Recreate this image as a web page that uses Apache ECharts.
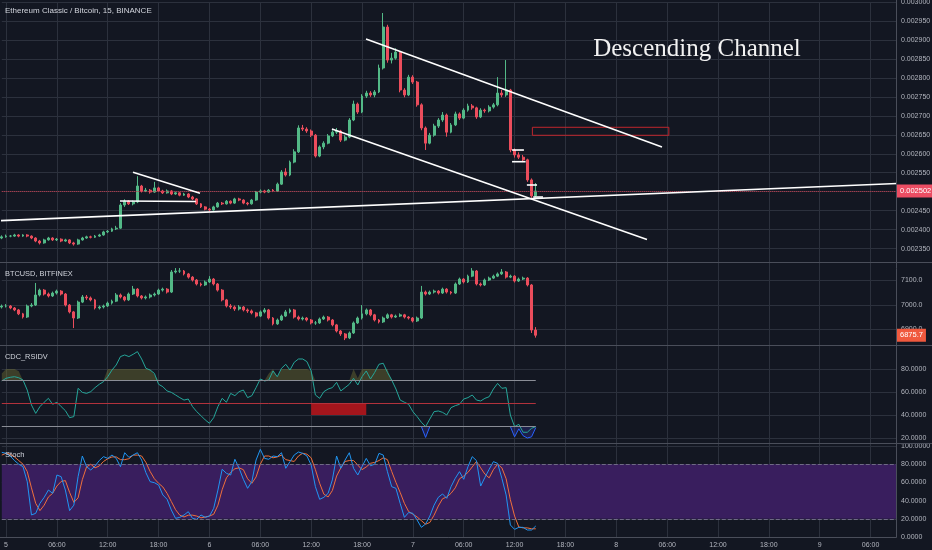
<!DOCTYPE html>
<html><head><meta charset="utf-8">
<script src="https://cdn.jsdelivr.net/npm/echarts@6/dist/echarts.min.js"></script>
<style>html,body{margin:0;padding:0;background:#131722;}#c{width:932px;height:550px;}</style>
</head><body><div id="c"></div>
<script>
// ---------- DATA (30-minute slots; ETC/BTC prices in millionths of BTC) ----------
// candle format: [open, close, low, high]
const etcCandles = [
[2378,2381,2375,2385],[2381,2383,2379,2387],[2383,2383,2380,2386],[2383,2386,2381,2389],[2386,2383,2380,2388],
[2383,2386,2381,2388],[2386,2383,2380,2388],[2383,2378,2375,2385],[2378,2370,2367,2380],[2370,2365,2361,2373],
[2365,2373,2363,2376],[2373,2378,2371,2381],[2378,2373,2370,2380],[2373,2375,2370,2378],[2375,2370,2367,2377],
[2370,2373,2368,2376],[2373,2365,2362,2375],[2365,2362,2358,2368],[2362,2373,2360,2376],[2373,2378,2371,2381],
[2378,2381,2376,2384],[2381,2380,2377,2384],[2380,2383,2378,2386],[2383,2386,2381,2389],[2386,2394,2384,2397],
[2394,2396,2391,2399],[2396,2402,2394,2405],[2402,2404,2399,2410],[2404,2465,2402,2470],[2465,2475,2460,2480],
[2475,2468,2465,2478],[2468,2473,2464,2477],[2473,2515,2470,2541],[2515,2502,2498,2518],[2502,2504,2499,2510],
[2504,2499,2495,2507],[2499,2510,2497,2526],[2510,2502,2499,2513],[2502,2497,2494,2505],[2497,2502,2495,2506],
[2502,2494,2491,2504],[2494,2497,2492,2500],[2497,2491,2488,2499],[2491,2494,2489,2497],[2494,2486,2483,2496],
[2486,2481,2478,2489],[2481,2468,2465,2483],[2468,2460,2457,2470],[2460,2454,2451,2462],[2454,2452,2448,2457],
[2452,2460,2450,2463],[2460,2470,2458,2473],[2470,2468,2465,2473],[2468,2475,2466,2478],[2475,2470,2467,2477],
[2470,2481,2468,2484],[2481,2478,2475,2484],[2478,2470,2467,2480],[2470,2468,2464,2473],[2468,2478,2466,2481],
[2478,2499,2476,2502],[2499,2502,2496,2506],[2502,2499,2496,2505],[2499,2504,2497,2507],[2504,2502,2499,2507],
[2502,2520,2500,2524],[2520,2552,2518,2557],[2552,2544,2540,2562],[2544,2578,2541,2582],[2578,2605,2575,2612],
[2605,2668,2602,2675],[2668,2665,2660,2676],[2665,2660,2655,2670],[2660,2649,2644,2664],[2649,2594,2590,2652],
[2594,2618,2591,2622],[2618,2628,2612,2633],[2628,2647,2625,2652],[2647,2657,2644,2662],[2657,2660,2652,2668],
[2660,2636,2631,2663],[2636,2644,2633,2649],[2644,2689,2641,2694],[2689,2731,2686,2740],[2731,2710,2705,2735],
[2710,2752,2707,2757],[2752,2760,2747,2766],[2760,2755,2750,2765],[2755,2763,2749,2768],[2763,2826,2760,2835],
[2826,2934,2822,2971],[2934,2847,2840,2940],[2847,2852,2838,2866],[2852,2868,2848,2878],[2868,2768,2762,2871],
[2768,2755,2749,2773],[2755,2802,2752,2808],[2802,2789,2784,2807],[2789,2729,2724,2792],[2729,2668,2662,2733],
[2668,2628,2610,2672],[2628,2649,2625,2655],[2649,2673,2645,2679],[2673,2689,2668,2694],[2689,2702,2684,2710],
[2702,2657,2645,2706],[2657,2676,2654,2681],[2676,2705,2673,2711],[2705,2694,2689,2709],[2694,2715,2691,2720],
[2715,2726,2711,2732],[2726,2721,2716,2731],[2721,2697,2692,2724],[2697,2715,2694,2720],[2715,2713,2708,2719],
[2713,2723,2709,2728],[2723,2729,2719,2734],[2729,2760,2725,2802],[2760,2755,2749,2768],[2755,2768,2750,2847],
[2768,2610,2604,2771],[2610,2597,2590,2614],[2597,2591,2586,2604],[2591,2584,2578,2597],[2584,2531,2526,2587],
[2531,2489,2484,2535],[2489,2502,2486,2523]
];
const etcLast = 2502;

const btcCandles = [
[6991,6995,6985,7001],[6995,6995,6989,7003],[6995,6987,6982,6999],[6987,6979,6974,6991],[6979,6963,6958,6983],
[6963,6950,6944,6967],[6950,6995,6946,7001],[6995,6999,6990,7007],[6999,7040,6995,7089],[7040,7060,7034,7066],
[7060,7044,7038,7064],[7044,7036,7030,7050],[7036,7048,7032,7054],[7048,7056,7042,7062],[7056,7044,7038,7060],
[7044,6999,6993,7048],[6999,6971,6965,7003],[6971,6946,6905,6975],[6946,7011,6942,7017],[7011,7032,7007,7040],
[7032,7028,7020,7040],[7028,7020,7014,7034],[7020,6987,6981,7024],[6987,6991,6981,6997],[6991,6995,6985,7001],
[6995,7007,6991,7013],[7007,7015,7001,7021],[7015,7040,7011,7048],[7040,7032,7026,7046],[7032,7020,7014,7036],
[7020,7044,7016,7050],[7044,7064,7040,7077],[7064,7036,7030,7068],[7036,7028,7022,7040],[7028,7032,7022,7038],
[7032,7040,7026,7046],[7040,7044,7034,7050],[7044,7060,7040,7066],[7060,7064,7054,7070],[7064,7052,7046,7068],
[7052,7134,7048,7142],[7134,7138,7128,7150],[7138,7138,7130,7150],[7138,7126,7120,7142],[7126,7113,7107,7130],
[7113,7101,7095,7117],[7101,7085,7079,7105],[7085,7081,7075,7091],[7081,7093,7077,7099],[7093,7105,7089,7117],
[7105,7085,7079,7109],[7085,7060,7054,7089],[7060,7020,7014,7064],[7020,6995,6989,7024],[6995,6991,6983,7003],
[6991,6983,6975,6997],[6983,6991,6977,6999],[6991,6979,6973,6995],[6979,6975,6967,6985],[6975,6967,6961,6981],
[6967,6954,6948,6971],[6954,6971,6950,6977],[6971,6979,6965,6987],[6979,6946,6940,6983],[6946,6922,6916,6950],
[6922,6938,6918,6944],[6938,6954,6934,6960],[6954,6971,6950,6979],[6971,6979,6965,6985],[6979,6950,6944,6983],
[6950,6942,6936,6956],[6942,6946,6936,6952],[6946,6938,6932,6950],[6938,6926,6920,6942],[6926,6926,6918,6934],
[6926,6942,6922,6948],[6942,6950,6938,6956],[6950,6938,6932,6954],[6938,6918,6912,6942],[6918,6893,6887,6922],
[6893,6881,6873,6897],[6881,6865,6856,6885],[6865,6885,6860,6891],[6885,6926,6881,6932],[6926,6946,6922,6952],
[6946,6963,6940,6999],[6963,6979,6957,6985],[6979,6959,6953,6983],[6959,6938,6932,6963],[6938,6930,6924,6942],
[6930,6946,6926,6952],[6946,6959,6942,6965],[6959,6950,6944,6963],[6950,6954,6946,6960],[6954,6959,6950,6965],
[6959,6950,6944,6963],[6950,6946,6940,6954],[6946,6934,6928,6950],[6934,6946,6930,6952],[6946,7052,6942,7077],
[7052,7044,7038,7058],[7044,7052,7040,7058],[7052,7056,7046,7062],[7056,7048,7042,7060],[7048,7064,7044,7070],
[7064,7052,7046,7068],[7052,7048,7042,7056],[7048,7085,7044,7091],[7085,7105,7081,7111],[7105,7093,7087,7109],
[7093,7117,7089,7123],[7117,7138,7113,7150],[7138,7085,7079,7142],[7085,7081,7075,7091],[7081,7101,7077,7107],
[7101,7109,7097,7115],[7109,7117,7105,7123],[7117,7126,7113,7132],[7126,7134,7122,7146],[7134,7113,7107,7138],
[7113,7117,7109,7123],[7117,7097,7091,7121],[7097,7105,7093,7111],[7105,7109,7101,7115],[7109,7081,7075,7113],
[7081,6897,6885,7085],[6897,6875.7,6866,6909]
];
const btcLast = 6875.7;

const rsiValues = [
69.6,71.9,72.8,73.3,72.4,70.4,61.7,48.7,41.4,47.3,
51.1,54.5,49.3,51.1,47.3,43.8,37.7,38.6,63.2,59.7,
58.8,60.3,63.8,66.7,69,73.3,79.1,83.5,90.8,92.2,
90.8,92.8,95.1,88.7,80.6,79.1,76.2,66.7,64.6,60.9,
59.7,57.4,55.1,53,53.9,47.3,42.9,39.4,35.7,32.8,
37.7,47.3,54.5,51.1,58.8,56.8,60.3,61.7,55.1,56.8,
63.8,71.3,69.6,70.4,78.3,73.3,80.6,84.1,79.1,85.8,
88.7,88.7,86.4,78.3,57.4,54.5,60.3,62.6,63.8,68.4,
60.9,63.8,66.7,71.9,66.1,73.3,78.3,71.3,77.1,84.1,
85,77.1,70.4,62.6,53,51.1,49.3,42.9,38.6,33.7,
29.9,36.5,42.9,43.5,42.3,40,46.4,48.1,49.3,53.9,
55.1,57.4,53,52.2,54.5,55.9,62.6,67.5,63.2,63.8,
40,29.9,31.9,25,25,28.4,29.9];
// overbought band top [slot, value] (70 = no band)
const rsiOverboughtPts = [[0,76],[1,80],[2,80],[3,80],[4,78],
 [25,80],[26,80],[27,80],[28,80],[29,80],[30,80],[31,80],[32,80],[33,80],[34,80],[35,80],[36,75],
 [63,76],[64,80],[65,73],[66,80],[67,80],[68,80],[69,80],[70,80],[71,80],[72,80],[73,78],
 [83,80],[84,72],[85,80],[86,80],[87,80],[88,80],[89,80],[90,80],[91,80]];
// oversold (blue) line [slot, value]
const rsiOversoldPts = [[99,30],[100,20.5],[101,30],[120,30],[121,21],[122,28],[123,22],[124,20],[125,21],[126,29]];
const rsiLevels = [70, 50, 30];
const rsiBearBox = [[73, 50], [86, 40]];

const stochK = [
93,91.9,89,84,80,77.3,60.8,24.2,26,37,
43.6,51.6,48,68.1,66.3,51.6,29,35,66.3,89,
77.3,73.6,78,84,88.3,86.4,90.1,86.4,77.3,92.6,
87.5,90.1,92.6,84.6,70.7,60.8,59.7,57.1,46.2,41.4,
29.7,20.5,21.6,24.2,27.8,20.5,19.4,24.2,21.6,23,
31.5,51.6,74.4,70,68.1,85.4,75.5,63.4,53.5,60.8,
84.6,96.3,86.4,85.4,89,88.3,92.6,75.5,82.8,90.1,
93.4,91.9,89,79.1,55.3,41.4,43.6,48,62.7,89,
75.5,84.6,92.6,75.5,68.1,77.3,86.4,78.3,80,91.9,
90.1,71.8,55.3,53.5,37,21.6,26.9,26,18.6,10.6,
14.3,23,35,43.6,47.3,42.5,55.3,64.5,71.8,63.4,
77.3,88.3,84,56,65.6,74.4,82.8,80.9,64.5,46.2,
13.2,8.4,10.6,10.6,7.7,7.7,12.1];
const stochD = [
90,92,91,88,84,80,72,54,37,29,
35,44,48,56,61,62,49,38,43,63,
77,80,76,78,83,86,88,88,85,85,
86,90,90,89,82,72,64,59,55,48,
39,30,24,22,24,24,23,21,22,23,
25,35,52,65,71,75,76,74,64,59,
66,80,89,89,87,88,90,85,84,83,
89,92,91,87,74,59,47,44,51,67,
76,83,84,84,79,74,77,81,82,84,
87,85,72,60,49,37,28,25,22,18,
14,16,24,34,42,44,48,54,64,67,
71,77,83,76,69,65,74,80,76,64,
41,23,11,10,10,9,9];
const stochBand = [20, 80];

// drawn trend lines: [[slot, price], [slot, price]]
const trendLines = [
 [[-0.42, 2423.6], [219.5, 2525.6]],
 [[30.96, 2551.2], [46.77, 2495.8]],
 [[27.89, 2475.5], [45.8, 2474.2]],
 [[85.94, 2902.5], [155.78, 2617.8]],
 [[77.9, 2665.3], [152.24, 2374.0]],
 [[120.4, 2609.9], [123.2, 2609.9]],
 [[120.4, 2579.1], [123.6, 2579.1]],
 [[123.9, 2517.7], [126.3, 2517.7]],
 [[125.4, 2486.0], [127.7, 2486.0]]
];
const targetBox = [[125.2, 2669.8], [157.4, 2648.7]];

// time slots: 30 minutes each, first slot = day 4 23:30
const slotCount = 212;
const categories = [];
for (let i = 0; i < slotCount; i++) {
  const m = (i - 1) * 30 + 5 * 1440;
  const d = Math.floor(m / 1440), r = m % 1440;
  categories.push(d + ' ' + String(Math.floor(r / 60)).padStart(2, '0') + ':' + String(r % 60).padStart(2, '0'));
}

// ---------- CHART ----------
const chart = echarts.init(document.getElementById('c'), null, {renderer: 'canvas', width: 932, height: 550});
const GRID_LINE = '#2c313d';
const AXIS_TXT = '#b2b5be';
const UP = '#53b987', DOWN = '#eb4d5c';
const SEP = '#4a4e5a';
const L = 1.8, R = 36;
const tickFn = (idx) => (idx - 1) % 12 === 0;

function catAxis(gi, showLabels) {
  return {
    type: 'category', gridIndex: gi, data: categories, boundaryGap: false,
    axisLine: {show: false}, axisTick: {show: false},
    axisLabel: {show: showLabels, interval: tickFn, color: AXIS_TXT, fontSize: 7, margin: 5,
      formatter: (v) => { const t = v.split(' '); return t[1] === '00:00' ? t[0] : t[1]; }},
    splitLine: {show: true, interval: tickFn, lineStyle: {color: GRID_LINE, width: 1}}
  };
}
function valAxis(gi, min, max, step, fmt, showMin, showMax) {
  return {
    type: 'value', gridIndex: gi, position: 'right', min: min, max: max, interval: step,
    axisLine: {show: false}, axisTick: {show: false},
    axisLabel: {color: AXIS_TXT, fontSize: 7, margin: 5, formatter: fmt},
    splitLine: {show: true, showMinLine: showMin, showMaxLine: showMax, lineStyle: {color: GRID_LINE, width: 1}}
  };
}

const oliveTop = rsiValues.map(() => 0);
rsiOverboughtPts.forEach(([i, v]) => { oliveTop[i] = v - 70; });
const oliveBase = rsiValues.map(() => 70);
const blueLine = rsiValues.map(() => '-');
rsiOversoldPts.forEach(([i, v]) => { blueLine[i] = v; });
const blueTop = blueLine.map(v => v === '-' ? '-' : 30 - v);

const series = [
  {type: 'candlestick', xAxisIndex: 0, yAxisIndex: 0, data: etcCandles, barWidth: 2.4,
   itemStyle: {color: UP, color0: DOWN, borderColor: UP, borderColor0: DOWN, borderWidth: 1},
   markLine: {silent: true, symbol: ['none', 'none'], animation: false,
     data: [{yAxis: etcLast}],
     lineStyle: {color: '#c23b4e', type: 'dotted', width: 1},
     label: {show: true, position: 'end', distance: 1, formatter: () => (etcLast / 1e6).toFixed(6),
       backgroundColor: '#ec4d63', color: '#ffffff', fontSize: 7.5, padding: [3, 3, 2, 3]}}},
  {type: 'candlestick', xAxisIndex: 1, yAxisIndex: 1, data: btcCandles, barWidth: 2.4,
   itemStyle: {color: UP, color0: DOWN, borderColor: UP, borderColor0: DOWN, borderWidth: 1},
   markLine: {silent: true, symbol: ['none', 'none'], animation: false,
     data: [{yAxis: btcLast}], lineStyle: {color: 'rgba(0,0,0,0)', width: 0.1, type: 'solid'},
     label: {show: true, position: 'end', distance: 1, formatter: () => btcLast.toFixed(1),
       backgroundColor: '#f0593e', color: '#ffffff', fontSize: 7.5, padding: [3, 3, 2, 3]}}},
  {type: 'line', xAxisIndex: 2, yAxisIndex: 2, data: oliveBase, stack: 'ob', symbol: 'none',
   lineStyle: {width: 0, opacity: 0}, silent: true, z: 1},
  {type: 'line', xAxisIndex: 2, yAxisIndex: 2, data: oliveTop, stack: 'ob', symbol: 'none',
   lineStyle: {width: 0, opacity: 0}, areaStyle: {color: 'rgba(135,135,55,0.5)'}, silent: true, z: 1},
  {type: 'line', xAxisIndex: 2, yAxisIndex: 2, data: blueLine, stack: 'bb', symbol: 'none',
   lineStyle: {width: 0, opacity: 0}, silent: true, z: 1},
  {type: 'line', xAxisIndex: 2, yAxisIndex: 2, data: blueTop, stack: 'bb', symbol: 'none',
   lineStyle: {width: 0, opacity: 0}, areaStyle: {color: 'rgba(60,60,200,0.35)'}, silent: true, z: 1},
  {type: 'line', xAxisIndex: 2, yAxisIndex: 2, data: rsiValues, symbol: 'none', z: 3,
   lineStyle: {color: '#26a69a', width: 1},
   markLine: {silent: true, symbol: ['none', 'none'], animation: false, label: {show: false},
     data: rsiLevels.map(lv => [{coord: [0, lv], lineStyle: {color: lv === 50 ? '#b2323c' : '#8a8d96', width: 1, type: 'solid'}}, {coord: [rsiValues.length - 1, lv]}])},
   markArea: {silent: true, animation: false, itemStyle: {color: '#a3151c', opacity: 1},
     data: [[{coord: rsiBearBox[0]}, {coord: rsiBearBox[1]}]]}},
  {type: 'line', xAxisIndex: 2, yAxisIndex: 2, data: blueLine, symbol: 'none', z: 4,
   lineStyle: {color: '#2962ff', width: 1}},
  {type: 'line', xAxisIndex: 3, yAxisIndex: 3, data: stochK, symbol: 'none', z: 3,
   lineStyle: {color: '#2196f3', width: 1},
   markArea: {silent: true, animation: false, itemStyle: {color: '#391e5e', opacity: 1},
     data: [[{yAxis: stochBand[0]}, {yAxis: stochBand[1]}]]},
   markLine: {silent: true, symbol: ['none', 'none'], animation: false, label: {show: false},
     lineStyle: {color: '#6f6a85', type: 'dashed', width: 1},
     data: stochBand.map(v => ({yAxis: v}))}},
  {type: 'line', xAxisIndex: 3, yAxisIndex: 3, data: stochD, symbol: 'none', z: 2,
   lineStyle: {color: '#f0703c', width: 1}}
];
trendLines.forEach((seg, k) => {
  const s = {type: 'line', xAxisIndex: 4, yAxisIndex: 0, data: seg, symbol: 'none', clip: false, z: 10,
    silent: true, lineStyle: {color: '#ffffff', width: 1.6}};
  if (k === 0) {
    s.markArea = {silent: true, animation: false,
      itemStyle: {color: 'rgba(0,0,0,0)', borderColor: '#c0262d', borderWidth: 1},
      data: [[{coord: targetBox[0]}, {coord: targetBox[1]}]]};
  }
  series.push(s);
});

const paneTitles = [
  {text: 'Ethereum Classic / Bitcoin, 15, BINANCE', y: 10.5, size: 8},
  {text: 'BTCUSD, BITFINEX', y: 273.5, size: 7.4},
  {text: 'CDC_RSIDV', y: 357.3, size: 7.4},
  {text: 'Stoch', y: 455, size: 7.6}
];
const separators = [262.5, 345.5, 443.5];
const graphic = [];
separators.forEach(y => graphic.push({type: 'line', z: 50, silent: true,
  shape: {x1: 0, y1: y, x2: 932, y2: y}, style: {stroke: SEP, lineWidth: 1}}));
graphic.push({type: 'line', z: 50, silent: true, shape: {x1: 0, y1: 537.5, x2: 896.5, y2: 537.5}, style: {stroke: SEP, lineWidth: 1}});
graphic.push({type: 'line', z: 50, silent: true, shape: {x1: 896.5, y1: 0, x2: 896.5, y2: 537.5}, style: {stroke: SEP, lineWidth: 1}});
paneTitles.forEach(t => graphic.push({type: 'text', z: 60, silent: true, x: 5, y: t.y,
  style: {text: t.text, fill: '#d1d4dc', font: t.size + 'px "Liberation Sans"', verticalAlign: 'middle'}}));
graphic.push({type: 'text', z: 60, silent: true, x: 697, y: 49,
  style: {text: 'Descending Channel', fill: '#f2f2f2', font: '25px "Liberation Serif"', align: 'center', verticalAlign: 'middle'}});

chart.setOption({
  backgroundColor: '#131722',
  animation: false,
  textStyle: {fontFamily: 'Liberation Sans'},
  grid: [
    {left: L, right: R, top: 2, height: 265.6, outerBoundsMode: 'none'},
    {left: L, right: R, top: 255.8, height: 98, outerBoundsMode: 'none'},
    {left: L, right: R, top: 346, height: 115, outerBoundsMode: 'none'},
    {left: L, right: R, top: 446, height: 91, outerBoundsMode: 'none'}
  ],
  xAxis: [
    catAxis(0, false), catAxis(1, false), catAxis(2, false), catAxis(3, true),
    {type: 'value', gridIndex: 0, min: 0, max: slotCount - 1, show: false}
  ],
  yAxis: [
    valAxis(0, 2300, 3000, 50, v => v > 2300 ? (v / 1e6).toFixed(6) : '', false, true),
    valAxis(1, 6800, 7200, 100, v => (v > 6800 && v < 7200) ? v.toFixed(1) : '', false, false),
    valAxis(2, 0, 100, 20, v => (v > 0 && v < 100) ? v.toFixed(4) : '', false, false),
    valAxis(3, 0, 100, 20, v => v.toFixed(4), true, true)
  ],
  series: series,
  graphic: graphic
});
</script>
</body></html>
